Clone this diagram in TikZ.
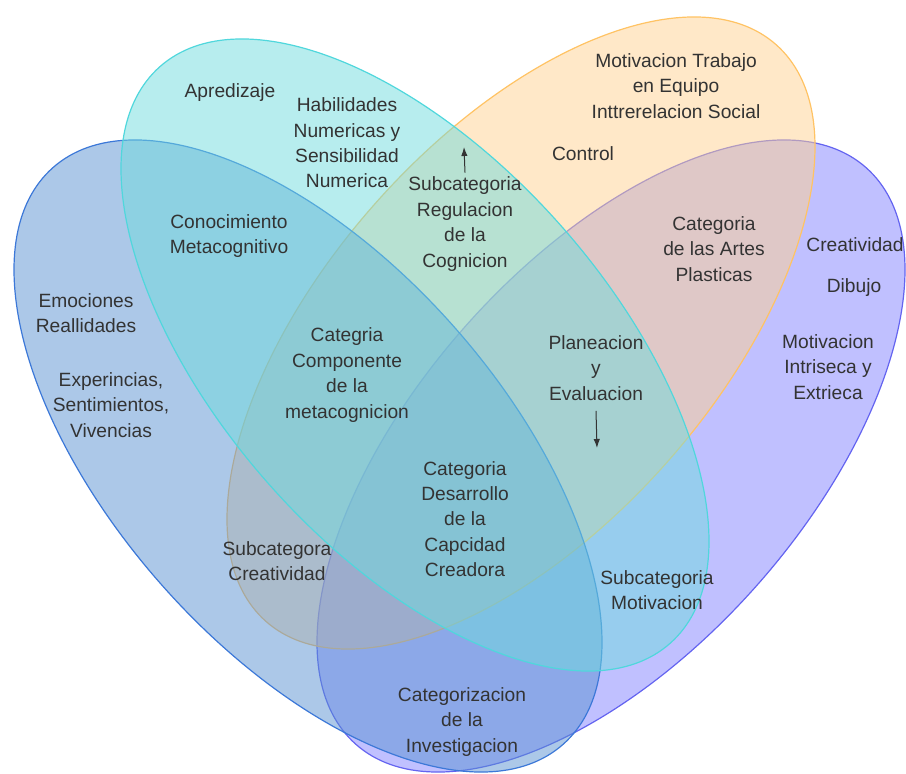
\documentclass[tikz,border=0pt]{standalone}
\usepackage{fontspec}
\setmainfont{Liberation Sans}
\usetikzlibrary{arrows.meta}
\definecolor{bluefill}{RGB}{89,145,209}
\definecolor{bluedge}{RGB}{60,120,216}
\definecolor{cyanfill}{RGB}{111,219,221}
\definecolor{cyanedge}{RGB}{80,215,220}
\definecolor{orangefill}{RGB}{255,209,145}
\definecolor{orangedge}{RGB}{255,195,100}
\definecolor{purplefill}{RGB}{129,129,255}
\definecolor{purpledge}{RGB}{100,100,240}
\definecolor{textgray}{RGB}{51,51,51}
\begin{document}
\begin{tikzpicture}[x=0.5pt,y=0.5pt,
	conj/.style={line width=0.6pt,fill opacity=0.5},
	lbl/.style={align=center,text=textgray,inner sep=1pt,font=\fontsize{9.6}{12.7}\selectfont},
	flecha/.style={-{Latex[length=4.5pt,width=3.2pt]},textgray,line width=0.5pt}]
	\useasboundingbox (0,0) rectangle (906,773);
	% the four sets
	\draw[conj,draw=purpledge,fill=purplefill,rotate around={48.5:(611,317)}]
		(611,317) ellipse [x radius=192.5pt,y radius=97.5pt];
	\draw[conj,draw=orangedge,fill=orangefill,rotate around={48.5:(521,440)}]
		(521,440) ellipse [x radius=192.5pt,y radius=97.5pt];
	\draw[conj,draw=bluedge,fill=bluefill,rotate around={-48.5:(308,317)}]
		(308,317) ellipse [x radius=192.5pt,y radius=97.5pt];
	\draw[conj,draw=cyanedge,fill=cyanfill,rotate around={-48.5:(415,418)}]
		(415,418) ellipse [x radius=192.5pt,y radius=97.5pt];
	% labels
	\node[lbl] (apre) at (230,680) {Apredizaje};
	\node[lbl] (habil) at (347,630) {Habilidades\\Numericas y\\Sensibilidad\\Numerica};
	\node[lbl] (trabajo) at (676,687) {Motivacion Trabajo\\en Equipo\\Inttrerelacion Social};
	\node[lbl] (control) at (583,619) {Control};
	\node[lbl] (regul) at (465,549) {Subcategoria\\Regulacion\\de la\\Cognicion};
	\node[lbl] (conoc) at (229,537) {Conocimiento\\Metacognitivo};
	\node[lbl] (emoc) at (86,460) {Emociones\\Reallidades};
	\node[lbl] (exper) at (111,368) {Experincias,\\Sentimientos,\\Vivencias};
	\node[lbl] (compo) at (347,398) {Categria\\Componente\\de la\\metacognicion};
	\node[lbl] (artes) at (714,524) {Categoria\\de las Artes\\Plasticas};
	\node[lbl] (creat) at (855,528) {Creatividad};
	\node[lbl] (dibujo) at (854,485) {Dibujo};
	\node[lbl] (intris) at (828,406) {Motivacion\\Intriseca y\\Extrieca};
	\node[lbl] (plan) at (596,405) {Planeacion\\y\\Evaluacion};
	\node[lbl] (desarr) at (465,254) {Categoria\\Desarrollo\\de la\\Capcidad\\Creadora};
	\node[lbl] (subcre) at (277,212) {Subcategora\\Creatividad};
	\node[lbl] (submot) at (657,183) {Subcategoria\\Motivacion};
	\node[lbl] (invest) at (462,51) {Categorizacion\\de la\\Investigacion};
	% arrows
	\coordinate (regtip) at (464,626);
	\coordinate (plantip) at (597,325);
	\draw[flecha] ([yshift=1pt]regul.north) -- (regtip);
	\draw[flecha] ([yshift=-4pt]plan.south) -- (plantip);
\end{tikzpicture}
\end{document}
